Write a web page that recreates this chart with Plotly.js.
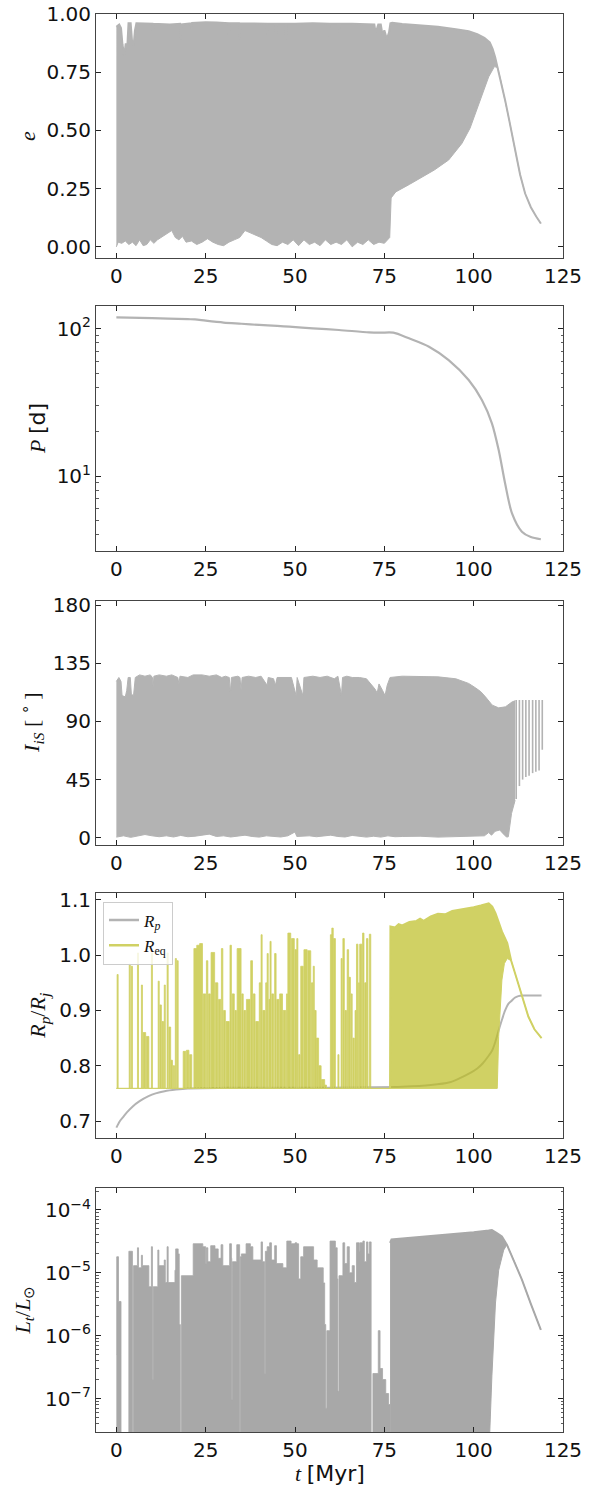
<!DOCTYPE html>
<html><head><meta charset="utf-8">
<script src="https://cdn.plot.ly/plotly-3.0.1.min.js"></script>
<style>html,body{margin:0;padding:0;background:#fff;}#chart{width:592px;height:1487px;}</style>
</head><body><div id="chart"></div>
<script>
// ---------------- DATA ----------------
const xTickVals = [0, 25, 50, 75, 100, 125];
const xTickText = ['0', '25', '50', '75', '100', '125'];

// Panel 1: eccentricity e — upper / lower envelope of the oscillation band
const eTopT = [0,0.8,1.3,1.7,2.2,2.6,3.1,3.4,4.0,4.4,4.8,5.2,5.6,10.1,10.3,10.5,15,17.8,18.0,18.2,20.8,21.0,21.2,25,28,31.3,31.5,31.7,34.3,34.5,34.7,38,42.0,42.2,42.4,44.5,44.7,44.9,47.3,47.5,47.7,50,55,59.4,59.6,59.8,62.2,62.4,62.6,66,70,72.2,72.5,72.8,73.3,74,74.5,75.0,75.7,76.3,76.7,77.2,80,85,90,95,98.6,101,103,104.5,105.3,106,106.7,107.5,108.8,110,111.6,113,114.4,116,117.5,118.8];
const eTop  = [0.945,0.955,0.94,0.87,0.82,0.87,0.87,0.96,0.96,0.88,0.86,0.93,0.96,0.958,0.917,0.958,0.955,0.958,0.89,0.955,0.96,0.937,0.962,0.965,0.963,0.96,0.91,0.96,0.96,0.89,0.96,0.96,0.958,0.91,0.958,0.958,0.917,0.958,0.958,0.89,0.958,0.958,0.96,0.958,0.90,0.958,0.958,0.92,0.958,0.958,0.958,0.955,0.925,0.93,0.955,0.955,0.91,0.93,0.893,0.92,0.96,0.962,0.957,0.952,0.945,0.935,0.926,0.913,0.898,0.878,0.85,0.815,0.77,0.72,0.63,0.54,0.415,0.31,0.229,0.17,0.13,0.10];
const eBotT = [0,0.5,1.5,2.5,3.5,4.5,5.5,6.5,7.5,8.5,9.5,10.5,11.5,12.5,13.5,14.5,15.5,16.5,17.5,18.5,19.5,21,22.5,24,25.5,27,28.5,30,31.5,33,34.5,36,37.5,39,40.5,42,43.5,45,46.5,48,49.5,51,52.5,54,55.5,57,58.5,60,61.5,63,64.5,66,67.5,69,70.5,72,73.5,75,76.5,76.9,78.2,82,85.6,89,93,96.7,99,100.5,102.5,104.2,105.8,106.7,107.5,108.8,110,111.6,113,114.4,116,117.5,118.8];
const eBot  = [0.0,0.02,0.015,0.025,0.01,0.02,0.005,0.03,0.005,0.01,0.03,0.015,0.03,0.04,0.05,0.06,0.07,0.04,0.03,0.045,0.02,0.025,0.01,0.02,0.035,0.02,0.01,0.005,0.02,0.03,0.04,0.07,0.06,0.05,0.04,0.025,0.01,0.005,0.02,0.01,0.03,0.005,0.03,0.01,0.02,0.005,0.03,0.01,0.02,0.01,0.03,0.0,0.02,0.01,0.03,0.01,0.02,0.015,0.04,0.21,0.236,0.268,0.30,0.33,0.373,0.444,0.51,0.573,0.655,0.73,0.774,0.77,0.72,0.63,0.54,0.415,0.31,0.229,0.17,0.13,0.10];

// Panel 2: orbital period P [d]
const pT = [0,10,20,22,25,30,35,40,45,48.4,55,62.3,70.7,74,77.5,81.9,87.5,93,98.6,102.3,105.1,107,108.8,110.7,113.5,116,118.8];
const pY = [119.4,118,116,115.6,113.3,110,108,106,104.5,103.2,100.5,98,94.5,94,94,86,75.5,61.2,44.8,32.8,22.8,15,8.9,5.6,4.19,3.85,3.72];

// Panel 3: inclination I_iS [deg] — band envelopes + final discrete oscillations
const iTopT = [0,0.7,1.3,1.6,2.5,2.9,3.3,3.9,4.2,4.8,5.3,6.5,8,9.5,10.1,10.3,10.5,12,14,15.5,17.2,17.5,17.8,20,21.5,24,26,28,29.5,30.5,31.6,31.9,32.2,34,34.6,34.9,35.2,37,39,40.5,42.2,42.5,44,44.5,45,47,49,50.3,50.6,52.2,52.5,55,57,59,61,62,63,63.3,64.5,66,68,70,72.4,73,73.5,74.5,75.2,75.8,76.6,80,85,90,95,96.8,98.6,100.5,102,103.3,105.2,107,108.9,110.7,111.6];
const iTop  = [121,124,121,110,109,114,124,124,111,110,124,126,125,126,124,116,125,126,125,126,124,119,125,124,126,126,125,126,124,125,124,112,124,125,124,114,124,125,124,125,118,124,123,118,124,124,124,110,124,110,124,125,124,125,123,125,110,124,125,124,124,123,115,112,119,114,110,118,124,125,125,124.5,123,121.3,119.4,116,113,109,102.6,100.5,101.3,105,106];
const iBotT = [0,2,4,6,8,10,12,14,16,18,20,22,24,26,28,30,32,34,36,38,40,42,44,46,48,50,50.5,52,54,56,58,60,62,64,66,68,70,72,74,76,78,80,85,90,95,100,103,104.2,105,106,107.3,108.3,109.2,109.7,110.6,111.6];
const iBot  = [0.5,1.5,0.3,1.2,2.5,1.5,0.8,1.5,0.6,1.8,0.8,1.2,2.2,2.8,1,1.5,0.6,1.2,2,1,0.5,1.5,1,0.6,1.5,4.5,1,1,1.5,0.8,1.5,2,1,0.6,1.8,1,0.5,1.2,0.5,1.5,0.8,1,1.2,0.5,1,1.5,1.5,4,2,5,6,3,0.5,0.8,18.9,29];
const iOscT   = [111.9,112.8,113.7,114.6,115.5,116.5,117.4,118.3,119.2];
const iOscLow = [30,40,45,47,48,50,51,52,68];
const iOscHigh= [106.5,106.5,106.5,106.5,106.5,106.5,106.5,106.5,106.5];

// Panel 4: radius R/R_j
const rpT = [0,1,2,3,4.5,6.5,9,11,13.5,16.7,20,30,50,70,80,88,93.3,96,98.8,101,102.5,104.2,105.2,106,107,108,108.8,109.7,110.7,111.5,112.5,114,119];
const rpY = [0.688,0.70,0.708,0.716,0.726,0.736,0.745,0.750,0.754,0.757,0.759,0.760,0.760,0.761,0.762,0.765,0.770,0.777,0.786,0.795,0.804,0.818,0.828,0.842,0.864,0.885,0.90,0.912,0.918,0.923,0.926,0.927,0.927];
const reqBase = 0.759;
const reqStart = [0.2,3.6,4.2,5.9,7.0,7.5,8.4,9.8,11.7,12.2,12.8,13.4,14.2,14.7,15.3,15.9,16.5,17.0,18.7,19.6,20.5,21.7,22.5,23.3,24.3,25.2,25.8,26.5,27.7,28.6,29.4,30.0,30.7,31.8,32.4,33.2,33.8,35.1,35.7,36.4,37.6,38.3,39.0,40.0,40.5,41.0,41.8,42.2,42.7,43.0,43.5,44.3,44.9,45.7,46.7,47.6,48.0,49.0,50.0,50.5,51.0,51.6,52.5,53.6,54.6,55.1,55.5,56.0,56.7,57.4,58.3,59.9,60.3,60.8,62.0,62.9,63.4,64.0,64.6,65.1,65.7,66.2,66.8,67.2,67.8,68.1,68.9,69.5,70.0,70.8];
const reqEnd   = [0.5,3.9,4.5,6.2,7.3,8.2,9.1,10.1,12.0,12.6,13.2,13.7,14.5,15.2,15.7,16.3,16.8,17.3,19.4,20.3,21.1,22.5,23.3,24.1,25.0,25.6,26.3,27.5,28.4,29.2,29.8,30.5,31.6,32.2,33.0,33.6,34.9,35.5,36.2,37.4,38.1,38.8,39.8,40.4,40.8,41.6,42.1,42.5,43.0,43.3,44.0,44.7,45.5,46.5,47.4,47.9,48.8,49.8,50.4,50.8,51.4,52.3,53.4,54.4,55.0,55.4,55.9,56.6,57.3,58.3,58.8,60.3,60.7,61.3,62.3,63.2,63.8,64.4,65.0,65.5,66.0,66.6,67.1,67.6,68.0,68.7,69.3,69.9,70.4,71.2];
const reqTop   = [0.965,0.984,0.98,1.004,0.946,0.86,0.853,1.004,0.953,0.91,0.88,0.946,1.004,0.87,0.81,0.80,0.994,0.99,0.826,0.828,0.82,1.012,1.018,1.021,0.93,0.99,0.93,1.005,0.95,0.92,1.012,0.90,0.88,1.018,0.93,0.90,1.012,0.93,0.90,0.92,0.99,0.93,0.88,0.95,1.037,0.90,0.95,1.003,0.92,1.025,0.93,1.003,0.92,0.93,0.90,0.93,1.04,1.03,1.01,1.03,0.82,0.98,1.01,1.008,0.95,0.98,0.90,0.85,0.80,0.775,0.765,1.037,1.049,1.03,0.82,0.994,1.03,0.90,1.01,0.96,0.93,0.85,0.90,1.02,0.95,1.02,1.04,0.95,1.03,1.038];
const reqBlkTopT = [76.6,76.7,78,79,80,82,84,85,86,88,90,92,94,96,98,100,102,104.2,105.2,106.1,107,107.9,109.4,110.5,111.6,113.5,115.3,117,119];
const reqBlkTop  = [0.759,1.052,1.05,1.056,1.054,1.06,1.062,1.066,1.062,1.07,1.075,1.074,1.08,1.082,1.085,1.087,1.09,1.094,1.088,1.076,1.06,1.043,1.022,0.99,0.967,0.925,0.889,0.866,0.85];
const reqBlkBotT = [76.6,106.6,107,107.9,108.6,109.4,110.5,111.6,113.5,115.3,117,119];
const reqBlkBot  = [0.759,0.759,0.853,0.955,0.985,0.994,0.99,0.967,0.925,0.889,0.866,0.85];

// Panel 5: tidal luminosity L_t/L_sun (step envelope before 77 Myr, band after)
const lFloor = 1e-9;
const lStepT = [0,0.1,0.6,1.3,3.5,4.5,4.8,5.9,6.2,7.0,7.3,9.1,9.8,10.1,10.3,11.6,11.9,13.4,13.7,14.2,14.5,16.4,16.6,17.3,17.6,17.9,18.2,21.5,24.2,25.0,25.2,25.6,26.4,27.6,28.5,29.3,29.8,31.7,32.2,32.3,32.5,33.7,34.5,34.7,35.0,36.3,37.5,38.2,40.5,40.9,41.5,41.7,42.2,42.9,43.4,44.3,44.8,46.6,47.7,48.9,50.0,50.5,51.0,51.6,52.4,55.2,56.2,57.9,58.3,58.6,58.9,59.8,61.3,61.8,62.0,62.3,63.4,63.9,64.6,65.2,66.0,66.6,67.2,68.0,68.2,69.0,69.4,70.0,70.4,70.8,71.3,71.8,73.3,73.8,74.5,75.4,76.2,76.6];
const lStepY = [5e-7,1.8e-5,3.5e-6,1e-9,2.2e-5,1e-9,1.3e-5,2.5e-5,1.2e-5,1.9e-5,1.3e-5,6e-6,2.6e-5,2e-7,6e-6,2.3e-5,1.3e-5,1.6e-5,7e-6,2.6e-5,7e-6,1.1e-5,2.4e-5,2e-5,1.5e-6,1e-9,9e-6,2.9e-5,2.6e-5,1.4e-5,2.5e-5,1.5e-5,2.7e-5,2.4e-5,1.7e-5,2.8e-5,1.3e-5,2.9e-5,1.7e-5,9.6e-8,1.5e-5,2.8e-5,1e-9,1.8e-5,2.0e-5,2.9e-5,2.6e-5,1.6e-5,3.1e-5,1.5e-5,2.5e-7,2.2e-5,2.6e-5,3.0e-5,1.6e-5,2.7e-5,1.4e-5,1.2e-5,3.2e-5,2.9e-5,3.0e-5,2.9e-5,8e-6,1.8e-5,2.6e-5,1.6e-5,1.2e-5,6.9e-6,1.5e-6,7e-8,1.2e-6,3.2e-5,2.5e-5,8e-6,1.3e-7,9e-6,3.0e-5,1.4e-5,2.6e-5,1.0e-5,1.3e-5,7e-6,3.0e-5,2.2e-5,3.0e-5,3.2e-5,1.5e-5,3.1e-5,2e-5,3.1e-5,1e-9,2.5e-7,1.2e-6,3e-7,2e-7,1.2e-7,8e-8,8e-8];
const lBlkTopT = [76.6,77,80,85,90,95,100,104.2,105.1,106.5,107.9,109.3,111.4,113.5,116,118.8];
const lBlkTop  = [3.0e-5,3.4e-5,3.5e-5,3.7e-5,3.9e-5,4.1e-5,4.4e-5,4.7e-5,4.8e-5,4.3e-5,3.8e-5,2.8e-5,1.5e-5,7.8e-6,3.2e-6,1.24e-6];
const lBlkBotT = [76.6,104.0,104.5,105.1,106.1,107,108.4,109.3,111.4,113.5,116,118.8];
const lBlkBot  = [1e-9,1e-9,2.9e-8,2.3e-7,3.3e-6,1.1e-5,2.3e-5,2.8e-5,1.5e-5,7.8e-6,3.2e-6,1.24e-6];

// ---------------- STYLE / LAYOUT ----------------
const W = 592, H = 1487;
const M = {l: 96, r: 29, t: 14, b: 55};
const plotH = H - M.t - M.b, plotW = W - M.l - M.r;
const panelPx = [[14, 258], [306, 551], [600.7, 845], [893.3, 1138.3], [1187.7, 1432]];
const yPaper = py => (H - M.b - py) / plotH;
const xPaper = px => (px - M.l) / plotW;
const dom = i => [yPaper(panelPx[i][1]), yPaper(panelPx[i][0])];

const GRAY = '#b3b3b3';
const LGRAY = '#a8a8a8';
const OLIVE_FILL = 'rgba(188,189,34,0.7)';
const OLIVE_LINE = '#d0d164';
const tickFont = {family: 'DejaVu Sans', size: 20, color: '#111'};
const SERIF = 'Liberation Serif';

function baseAxis() {
  return {ticks: 'inside', ticklen: 5, tickwidth: 1, tickcolor: '#222',
          showline: true, linecolor: '#444', linewidth: 1, mirror: 'ticks',
          showgrid: false, zeroline: false, tickfont: tickFont, fixedrange: true};
}
function xAxis(i) {
  return Object.assign(baseAxis(), {domain: [0, 1], anchor: i === 0 ? 'y' : 'y' + (i + 1),
    range: [-5.7, 125], tickmode: 'array', tickvals: xTickVals, ticktext: xTickText});
}
function yAxis(i, extra) {
  return Object.assign(baseAxis(), {domain: dom(i), anchor: i === 0 ? 'x' : 'x' + (i + 1)}, extra);
}
const minorStyle = {ticks: 'inside', ticklen: 2.5, tickwidth: 0.8, tickcolor: '#333', showgrid: false, tickmode: 'array'};
const pMinor = [4,5,6,7,8,9,20,30,40,50,60,70,80,90];
const lMinor = [3e-8,4e-8,5e-8,6e-8,7e-8,8e-8,9e-8,2e-7,3e-7,4e-7,5e-7,6e-7,7e-7,8e-7,9e-7,
                2e-6,3e-6,4e-6,5e-6,6e-6,7e-6,8e-6,9e-6,2e-5,3e-5,4e-5,5e-5,6e-5,7e-5,8e-5,9e-5,2e-4];

const layout = {
  width: W, height: H, margin: M, paper_bgcolor: '#fff', plot_bgcolor: '#fff',
  showlegend: true, hovermode: false,
  legend: {x: xPaper(103), y: yPaper(901.5), xanchor: 'left', yanchor: 'top', traceorder: 'normal',
           bgcolor: 'rgba(255,255,255,0.8)', bordercolor: '#cccccc', borderwidth: 1,
           font: {family: SERIF, size: 17, color: '#111'}, tracegroupgap: 0},
  xaxis: xAxis(0), xaxis2: xAxis(1), xaxis3: xAxis(2), xaxis4: xAxis(3), xaxis5: xAxis(4),
  yaxis: yAxis(0, {range: [-0.048, 1.0], tickmode: 'array', tickvals: [0, 0.25, 0.5, 0.75, 1.0],
                   ticktext: ['0.00', '0.25', '0.50', '0.75', '1.00']}),
  yaxis2: yAxis(1, {type: 'log', range: [0.491, 2.154], tickmode: 'array', tickvals: [10, 100],
                    ticktext: ['10<sup>1</sup>', '10<sup>2</sup>'],
                    minor: Object.assign({tickvals: pMinor}, minorStyle)}),
  yaxis3: yAxis(2, {range: [-5.6, 183.4], tickmode: 'array', tickvals: [0, 45, 90, 135, 180],
                    ticktext: ['0', '45', '90', '135', '180']}),
  yaxis4: yAxis(3, {range: [0.6687, 1.112], tickmode: 'array', tickvals: [0.7, 0.8, 0.9, 1.0, 1.1],
                    ticktext: ['0.7', '0.8', '0.9', '1.0', '1.1']}),
  yaxis5: yAxis(4, {type: 'log', range: [-7.533, -3.646], tickmode: 'array',
                    tickvals: [1e-7, 1e-6, 1e-5, 1e-4],
                    ticktext: ['10<sup>\u22127</sup>', '10<sup>\u22126</sup>', '10<sup>\u22125</sup>', '10<sup>\u22124</sup>'],
                    minor: Object.assign({tickvals: lMinor}, minorStyle)}),
  annotations: []
};

const sans = s => '<span style="font-family:DejaVu Sans">' + s + '</span>';
const yTitles = [
  {text: '<i>e</i>', x: 28, y: 136},
  {text: '<i>P</i> ' + sans('[d]'), x: 37.5, y: 428.5},
  {text: '<i>I</i><sub><i>iS</i></sub> [ <sup>\u2218</sup> ]', x: 32, y: 722.9},
  {text: '<i>R<sub>p</sub></i>/<i>R<sub>j</sub></i>', x: 39, y: 1015.8},
  {text: '<i>L<sub>t</sub></i>/<i>L</i><sub>\u2299</sub>', x: 23.5, y: 1310}
];
yTitles.forEach(a => layout.annotations.push({
  text: a.text, xref: 'paper', yref: 'paper', x: xPaper(a.x), y: yPaper(a.y),
  xanchor: 'center', yanchor: 'middle', textangle: -90, showarrow: false,
  font: {family: SERIF, size: 22, color: '#111'}
}));
layout.annotations.push({
  text: '<i>t</i> ' + sans('[Myr]'), xref: 'paper', yref: 'paper', x: xPaper(330), y: yPaper(1473),
  xanchor: 'center', yanchor: 'middle', showarrow: false, font: {family: SERIF, size: 22, color: '#111'}
});

// ---------------- TRACES ----------------
const traces = [];
function ax(i) { return i === 0 ? {xaxis: 'x', yaxis: 'y'} : {xaxis: 'x' + (i + 1), yaxis: 'y' + (i + 1)}; }
function line(i, x, y, o) {
  return Object.assign({type: 'scatter', mode: 'lines', x: x, y: y, showlegend: false, hoverinfo: 'skip'}, ax(i), o);
}

// panel 1
traces.push(line(0, eBotT, eBot, {line: {color: GRAY, width: 1}}));
traces.push(line(0, eTopT, eTop, {line: {color: GRAY, width: 2}, fill: 'tonexty', fillcolor: GRAY}));
// panel 2
traces.push(line(1, pT, pY, {line: {color: GRAY, width: 2.2, shape: 'spline', smoothing: 0.8}}));
// panel 3
traces.push(line(2, iBotT, iBot, {line: {color: GRAY, width: 1}}));
traces.push(line(2, iTopT, iTop, {line: {color: GRAY, width: 1}, fill: 'tonexty', fillcolor: GRAY}));
traces.push(Object.assign({type: 'bar', x: iOscT, base: iOscLow,
  y: iOscHigh.map((h, k) => h - iOscLow[k]), width: 0.45,
  marker: {color: GRAY, line: {width: 0}}, showlegend: false, hoverinfo: 'skip'}, ax(2)));
// panel 4
traces.push(line(3, rpT, rpY, {line: {color: 'rgba(128,128,128,0.6)', width: 2, shape: 'spline', smoothing: 0.8}}));
const stepX = [0], stepY = [reqBase];
reqStart.forEach((s, k) => { stepX.push(s, reqEnd[k]); stepY.push(reqTop[k], reqBase); });
stepX.push(76.6); stepY.push(reqBase);
traces.push(line(3, [0, 76.6], [reqBase, reqBase], {line: {color: OLIVE_LINE, width: 1}}));
traces.push(line(3, stepX, stepY, {line: {color: OLIVE_LINE, width: 0.8, shape: 'hv'}, fill: 'tonexty', fillcolor: OLIVE_FILL}));
traces.push(line(3, reqBlkBotT, reqBlkBot, {line: {color: OLIVE_LINE, width: 1}}));
traces.push(line(3, reqBlkTopT, reqBlkTop, {line: {color: OLIVE_LINE, width: 2}, fill: 'tonexty', fillcolor: OLIVE_FILL}));
// panel 5
traces.push(line(4, [0, 76.6], [lFloor, lFloor], {line: {color: LGRAY, width: 0.5}}));
traces.push(line(4, lStepT, lStepY, {line: {color: LGRAY, width: 0.8, shape: 'hv'}, fill: 'tonexty', fillcolor: LGRAY}));
traces.push(line(4, lBlkBotT, lBlkBot, {line: {color: LGRAY, width: 1}}));
traces.push(line(4, lBlkTopT, lBlkTop, {line: {color: LGRAY, width: 2}, fill: 'tonexty', fillcolor: LGRAY}));
// legend entries (line samples)
traces.push(Object.assign({type: 'scatter', mode: 'lines', x: [null], y: [null], name: '<i>R<sub>p</sub></i>',
  line: {color: 'rgba(128,128,128,0.6)', width: 2.5}, showlegend: true}, ax(3)));
traces.push(Object.assign({type: 'scatter', mode: 'lines', x: [null], y: [null], name: '<i>R</i><sub>eq</sub>',
  line: {color: OLIVE_LINE, width: 2.5}, showlegend: true}, ax(3)));

Plotly.newPlot('chart', traces, layout, {staticPlot: true, displayModeBar: false});
</script></body></html>
